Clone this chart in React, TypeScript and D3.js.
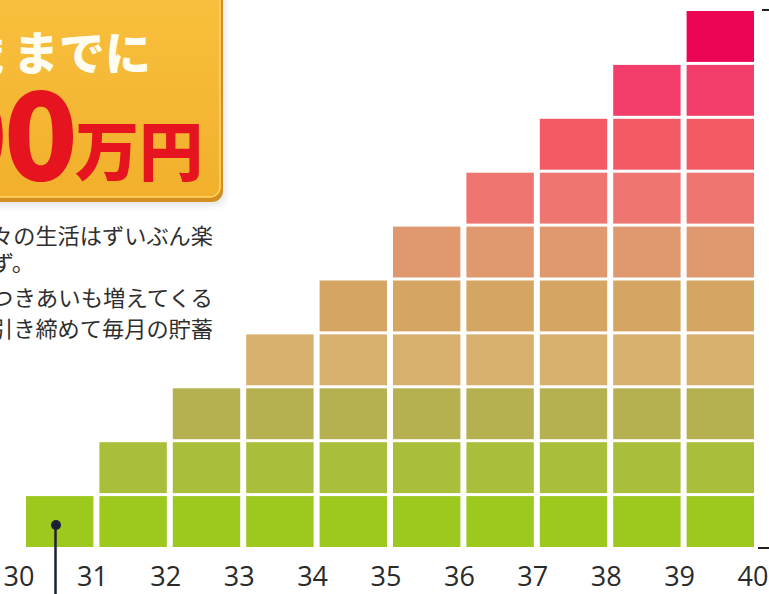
import React from "react";
import * as d3 from "d3";

const ages = [30, 31, 32, 33, 34, 35, 36, 37, 38, 39];
const counts = [1, 2, 3, 4, 5, 6, 7, 8, 9, 10];
const tickLabels = ["30", "31", "32", "33", "34", "35", "36", "37", "38", "39", "40"];
const rowColors = [
  "#9DC81E",
  "#A9BE3A",
  "#B6B150",
  "#D6B06C",
  "#D5A563",
  "#E0996F",
  "#EF7571",
  "#F25A65",
  "#F33E6B",
  "#EC0555",
];
const headCut = "歳";
const headLine = "までに";
const amountDigits = "1000";
const amountUnit = "万円";
const bodyLines = ["々の生活はずいぶん楽", "ず。", "つきあいも増えてくる", "引き締めて毎月の貯蓄"];

const W = 769;
const H = 594;

export default function App() {
  const x = d3.scaleLinear().domain([30, 40]).range([23, 757]);
  const y = d3.scaleLinear().domain([0, 10]).range([549, 10]);
  const cells: { key: string; x: number; y: number; w: number; h: number; fill: string }[] = [];
  ages.forEach((a, i) => {
    for (let k = 1; k <= counts[i]; k++) {
      const x0 = x(a) + 3;
      const x1 = x(a + 1) - 3;
      const y0 = y(k) + 1;
      const y1 = y(k - 1) - 2;
      cells.push({ key: `${a}-${k}`, x: x0, y: y0, w: x1 - x0, h: y1 - y0, fill: rowColors[k - 1] });
    }
  });
  const jp = "'Noto Sans CJK JP', 'Noto Sans', sans-serif";
  const bodyY = [244, 271, 306, 337];
  const bodyLen = [222, 44, 222, 222];
  return (
    <svg
      width={W}
      height={H}
      style={{ position: "absolute", left: 0, top: 0, background: "#fff" }}
      xmlns="http://www.w3.org/2000/svg"
    >
      <defs>
        <linearGradient id="boxg" x1="0" y1="0" x2="0" y2="1">
          <stop offset="0" stopColor="#F8C13F" />
          <stop offset="1" stopColor="#F2B02C" />
        </linearGradient>
        <filter id="sh" x="-10%" y="-10%" width="130%" height="130%">
          <feGaussianBlur stdDeviation="3" />
        </filter>
      </defs>

      {/* label box */}
      <rect x={-20} y={-20} width={246} height={226} rx={12} fill="#bbb" opacity={0.35} filter="url(#sh)" />
      <rect x={-20} y={-20} width={243} height={222} rx={11} fill="#D39020" />
      <rect x={-20} y={-20} width={240} height={217} rx={10} fill="url(#boxg)" stroke="#FFD867" strokeWidth={1.5} />
      <text x={-42} y={70} fontFamily={jp} fontWeight={900} fontSize={46} fill="#FFFDF2">
        {headCut}
      </text>
      <text
        x={13}
        y={70}
        fontFamily={jp}
        fontWeight={900}
        fontSize={46}
        fill="#FFFDF2"
        textLength={138}
        lengthAdjust="spacingAndGlyphs"
      >
        {headLine}
      </text>
      <text x={74} y={180} textAnchor="end" fontFamily={jp} fontWeight={900} fontSize={122} fill="#E5141E" letterSpacing={-4}>
        {amountDigits}
      </text>
      <text
        x={75}
        y={175}
        fontFamily={jp}
        fontWeight={900}
        fontSize={64}
        fill="#E5141E"
        textLength={128}
        lengthAdjust="spacingAndGlyphs"
      >
        {amountUnit}
      </text>

      {/* body text */}
      {bodyLines.map((t, i) => (
        <text
          key={i}
          x={-9}
          y={bodyY[i]}
          fontFamily={jp}
          fontWeight={400}
          fontSize={21.5}
          fill="#2e2e2e"
          textLength={bodyLen[i]}
          lengthAdjust="spacingAndGlyphs"
        >
          {t}
        </text>
      ))}

      {/* cells */}
      {cells.map((c) => (
        <rect key={c.key} x={c.x} y={c.y} width={c.w} height={c.h} fill={c.fill} />
      ))}

      {/* x labels */}
      {tickLabels.map((t, i) => (
        <text
          key={t}
          x={x(30 + i) - 4}
          y={586}
          textAnchor="middle"
          fontFamily="'Open Sans', 'DejaVu Sans', sans-serif"
          fontSize={27}
          fill="#2a2a2a"
        >
          {t}
        </text>
      ))}

      {/* right ticks */}
      <line x1={762} x2={769} y1={y(10)} y2={y(10)} stroke="#222" strokeWidth={2} />
      <line x1={758} x2={769} y1={y(0) - 1} y2={y(0) - 1} stroke="#222" strokeWidth={2} />

      {/* marker */}
      <line x1={55.5} x2={55.5} y1={525} y2={H} stroke="#1c2233" strokeWidth={2.5} />
      <circle cx={56} cy={525} r={5} fill="#1c2233" />
    </svg>
  );
}
